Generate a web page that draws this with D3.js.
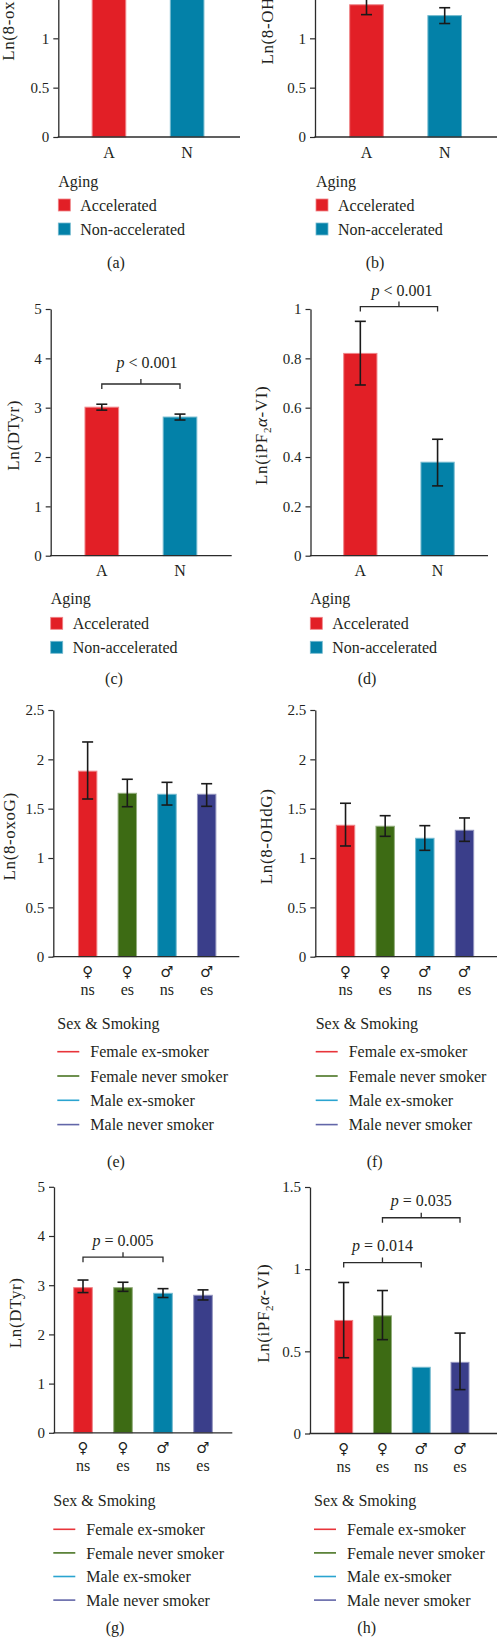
<!DOCTYPE html>
<html><head><meta charset="utf-8">
<script src="https://cdn.jsdelivr.net/npm/d3@7"></script>
<style>
html,body{margin:0;padding:0;background:#fff;}
svg{display:block;}
text{font-family:"Liberation Serif","Times New Roman",serif;fill:#231f20;}
</style></head><body>
<svg id="c" width="497" height="1641"></svg>
<script>
// ---------- DATA ----------
const agingCats = ["A", "N"];
const agingNames = ["Accelerated", "Non-accelerated"];
const groupCats = ["Fns", "Fes", "Mns", "Mes"];
const groupSex = ["\u2640", "\u2640", "\u2642", "\u2642"];
const groupSmoke = ["ns", "es", "ns", "es"];
const groupNames = ["Female ex-smoker", "Female never smoker", "Male ex-smoker", "Male never smoker"];

const ticks25 = [0, 0.5, 1, 1.5, 2, 2.5];
const ticks5 = [0, 1, 2, 3, 4, 5];
const ticks1 = [0, 0.2, 0.4, 0.6, 0.8, 1];
const ticks15 = [0, 0.5, 1, 1.5];

// Aging panels (a)-(d)
const oxoG_aging = [1.78, 1.66];
const oxoG_aging_lo = [1.64, 1.55];
const oxoG_aging_hi = [1.92, 1.77];
const ohdg_aging = [1.34, 1.23];
const ohdg_aging_lo = [1.24, 1.15];
const ohdg_aging_hi = [1.44, 1.31];
const dtyr_aging = [3.01, 2.81];
const dtyr_aging_lo = [2.95, 2.75];
const dtyr_aging_hi = [3.07, 2.87];
const ipf_aging = [0.82, 0.379];
const ipf_aging_lo = [0.692, 0.283];
const ipf_aging_hi = [0.95, 0.472];

// Sex & smoking panels (e)-(h)
const oxoG_sex = [1.88, 1.656, 1.646, 1.646];
const oxoG_sex_lo = [1.598, 1.52, 1.537, 1.524];
const oxoG_sex_hi = [2.176, 1.798, 1.767, 1.753];
const ohdg_sex = [1.332, 1.322, 1.2, 1.281];
const ohdg_sex_lo = [1.122, 1.22, 1.078, 1.169];
const ohdg_sex_hi = [1.555, 1.429, 1.328, 1.406];
const dtyr_sex = [2.95, 2.95, 2.835, 2.795];
const dtyr_sex_lo = [2.85, 2.875, 2.75, 2.70];
const dtyr_sex_hi = [3.105, 3.06, 2.93, 2.905];
const ipf_sex = [0.688, 0.716, 0.403, 0.433];
const ipf_sex_lo = [0.461, 0.571, null, 0.267];
const ipf_sex_hi = [0.919, 0.87, null, 0.611];

// significance annotations: [from, to, level(y value), label]
const sigC = [[0, 1, 3.48, "< 0.001"]];
const sigD = [[0, 1, 1.01, "< 0.001"]];
const sigG = [[0, 2, 3.57, "= 0.005"]];
const sigH = [[0, 2, 1.04, "= 0.014"], [1, 3, 1.313, "= 0.035"]];

// ---------- STYLE ----------
const agingColors = ["#e21f26", "#0381a8"];
const groupColors = ["#e21f26", "#3d6b14", "#0381a8", "#3a3e8a"];
const groupLineColors = ["#e8343a", "#4a7524", "#2aa4d0", "#6266a8"];

const svg = d3.select("#c");

const panels = [
  {id:"a", cats:agingCats, means:oxoG_aging, lo:oxoG_aging_lo, hi:oxoG_aging_hi, ticks:ticks25, yMax:2.5,
   label:[["Ln(8-oxoG)"]], axisX:58.3, axisEnd:240, r0:69.9, r1:226.2, pad:0.557, base:137, top:-109.7,
   labelX:8, legX:58.3, legTitleY:181, legY0:205, legStep:24, capX:116, capY:262, sig:[]},
  {id:"b", cats:agingCats, means:ohdg_aging, lo:ohdg_aging_lo, hi:ohdg_aging_hi, ticks:ticks25, yMax:2.5,
   label:[["Ln(8-OHdG)"]], axisX:315, axisEnd:497, r0:327.4, r1:483.8, pad:0.557, base:137, top:-109.7,
   labelX:266.7, legX:316, legTitleY:181, legY0:205, legStep:24, capX:375, capY:262, sig:[]},
  {id:"c", cats:agingCats, means:dtyr_aging, lo:dtyr_aging_lo, hi:dtyr_aging_hi, ticks:ticks5, yMax:5,
   label:[["Ln(DTyr)"]], axisX:50.7, axisEnd:231.7, r0:62.7, r1:219.1, pad:0.557, base:555.7, top:309,
   labelX:12.7, legX:50.7, legTitleY:598.3, legY0:623.3, legStep:24, capX:114, capY:678.3, sig:sigC, sigDy:15.5, sigDx:6},
  {id:"d", cats:agingCats, means:ipf_aging, lo:ipf_aging_lo, hi:ipf_aging_hi, ticks:ticks1, yMax:1,
   label:"ipf", axisX:310.5, axisEnd:488, r0:321.7, r1:476.2, pad:0.557, base:555.7, top:309,
   labelX:261, legX:310.3, legTitleY:598.3, legY0:623.3, legStep:24, capX:367, capY:678.3, sig:sigD, sigDy:11, sigDx:3},
  {id:"e", cats:groupCats, means:oxoG_sex, lo:oxoG_sex_lo, hi:oxoG_sex_hi, ticks:ticks25, yMax:2.5,
   label:[["Ln(8-oxoG)"]], axisX:53.3, axisEnd:239.3, r0:67.8, r1:226.5, pad:0.51, base:956.7, top:710,
   labelX:9, legX:57.3, legTitleY:1023.7, legY0:1051.7, legStep:24.3, capX:116, capY:1161, sig:[]},
  {id:"f", cats:groupCats, means:ohdg_sex, lo:ohdg_sex_lo, hi:ohdg_sex_hi, ticks:ticks25, yMax:2.5,
   label:[["Ln(8-OHdG)"]], axisX:315.3, axisEnd:497, r0:325.7, r1:484.3, pad:0.51, base:956.7, top:710,
   labelX:266.3, legX:315.7, legTitleY:1023.7, legY0:1051.7, legStep:24.3, capX:374.7, capY:1161, sig:[]},
  {id:"g", cats:groupCats, means:dtyr_sex, lo:dtyr_sex_lo, hi:dtyr_sex_hi, ticks:ticks5, yMax:5,
   label:[["Ln(DTyr)"]], axisX:54, axisEnd:232.3, r0:63, r1:223, pad:0.51, base:1432.8, top:1186.8,
   labelX:15, legX:53.3, legTitleY:1500.7, legY0:1529.3, legStep:23.6, capX:115, capY:1627, sig:sigG, sigDy:11, sigDx:0},
  {id:"h", cats:groupCats, means:ipf_sex, lo:ipf_sex_lo, hi:ipf_sex_hi, ticks:ticks15, yMax:1.5,
   label:"ipf", axisX:310, axisEnd:497, r0:324.3, r1:479.4, pad:0.51, base:1433.5, top:1187,
   labelX:263, legX:314, legTitleY:1500.7, legY0:1529.3, legStep:23.6, capX:366.7, capY:1627, sig:sigH, sigDy:12, sigDx:0}
];

function lighten(c, t) {
  return d3.interpolateRgb(c, "#ffffff")(t);
}

function drawPanel(p) {
  const g = svg.append("g").attr("class", "panel-" + p.id);
  const isAging = p.cats.length === 2;
  const colors = isAging ? agingColors : groupColors;
  const y = d3.scaleLinear().domain([0, p.yMax]).range([p.base, p.top]);
  const x = d3.scaleBand().domain(p.cats).range([p.r0, p.r1])
    .paddingInner(p.pad).paddingOuter(p.pad / 2);
  const cx = i => x(p.cats[i]) + x.bandwidth() / 2;

  // bars
  g.selectAll("rect.bar").data(p.means).join("rect").attr("class", "bar")
    .attr("x", (d, i) => x(p.cats[i]) + 0.5)
    .attr("width", x.bandwidth() - 1)
    .attr("y", d => y(d))
    .attr("height", d => y(0) - y(d))
    .attr("fill", (d, i) => colors[i])
    .attr("stroke", (d, i) => lighten(colors[i], 0.45))
    .attr("stroke-width", 1);

  // error bars
  const eb = g.append("g").attr("stroke", "#1a1a1a").attr("stroke-width", 1.6).attr("fill", "none");
  p.means.forEach((m, i) => {
    if (p.lo[i] == null) return;
    const xc = cx(i), w = 5.5;
    eb.append("line").attr("x1", xc).attr("x2", xc).attr("y1", y(p.lo[i])).attr("y2", y(p.hi[i]));
    eb.append("line").attr("x1", xc - w).attr("x2", xc + w).attr("y1", y(p.lo[i])).attr("y2", y(p.lo[i]));
    eb.append("line").attr("x1", xc - w).attr("x2", xc + w).attr("y1", y(p.hi[i])).attr("y2", y(p.hi[i]));
  });

  // y axis (only ticks that fall inside the visible page)
  const visTicks = p.ticks.filter(t => y(t) > 8);
  const ax = d3.axisLeft(y).tickValues(visTicks).tickSize(5).tickSizeOuter(0).tickPadding(4)
    .tickFormat(d3.format("~g"));
  const ag = g.append("g").attr("transform", `translate(${p.axisX},0)`).call(ax);
  ag.select(".domain").attr("stroke", "#2b2b2b").attr("stroke-width", 1.3);
  ag.selectAll(".tick line").attr("stroke", "#2b2b2b").attr("stroke-width", 1.2);
  ag.selectAll(".tick text").attr("font-size", 15).attr("font-family", "Liberation Serif").attr("fill", "#231f20");

  // x baseline
  g.append("line").attr("x1", p.axisX - 0.6).attr("x2", p.axisEnd).attr("y1", y(0)).attr("y2", y(0))
    .attr("stroke", "#2b2b2b").attr("stroke-width", 1.3);

  // x labels
  if (isAging) {
    g.selectAll("text.xl").data(p.cats).join("text").attr("class", "xl")
      .attr("x", (d, i) => cx(i)).attr("y", y(0) + 15).attr("dy", "0.35em")
      .attr("text-anchor", "middle").attr("font-size", 16).text(d => d);
  } else {
    g.selectAll("text.xs").data(groupSex).join("text").attr("class", "xs")
      .attr("x", (d, i) => cx(i)).attr("y", y(0) + 15).attr("dy", "0.35em")
      .attr("text-anchor", "middle").attr("font-size", 15)
      .style("font-family", "'DejaVu Serif','DejaVu Sans',serif").text(d => d);
    g.selectAll("text.xm").data(groupSmoke).join("text").attr("class", "xm")
      .attr("x", (d, i) => cx(i)).attr("y", y(0) + 33).attr("dy", "0.35em")
      .attr("text-anchor", "middle").attr("font-size", 16).text(d => d);
  }

  // y label
  const ly = (p.base + p.top) / 2 + 3;
  const lt = g.append("text").attr("transform", `translate(${p.labelX},${ly}) rotate(-90)`)
    .attr("text-anchor", "middle").attr("dy", "0.35em").attr("font-size", 17).attr("letter-spacing", 0.6);
  if (p.label === "ipf") {
    lt.append("tspan").text("Ln(iPF");
    lt.append("tspan").attr("font-size", 11).attr("dy", 4).text("2");
    lt.append("tspan").attr("dy", -4).attr("font-style", "italic").text("\u03b1");
    lt.append("tspan").text("-VI)");
  } else {
    lt.text(p.label[0][0]);
  }

  // significance brackets
  p.sig.forEach(s => {
    const x1 = cx(s[0]), x2 = cx(s[1]), yb = y(s[2]), xm = (x1 + x2) / 2;
    g.append("path").attr("d", `M${x1},${yb + 5}V${yb}H${x2}V${yb + 5}M${xm},${yb}V${yb - 5}`)
      .attr("fill", "none").attr("stroke", "#2b2b2b").attr("stroke-width", 1.3);
    const t = g.append("text").attr("x", xm + p.sigDx).attr("y", yb - p.sigDy)
      .attr("text-anchor", "middle").attr("font-size", 16);
    t.append("tspan").attr("font-style", "italic").text("p");
    t.append("tspan").text(" " + s[3]);
  });

  // legend
  const lg = g.append("g");
  lg.append("text").attr("x", p.legX).attr("y", p.legTitleY).attr("dy", "0.35em").attr("font-size", 16)
    .text(isAging ? "Aging" : "Sex & Smoking");
  if (isAging) {
    agingNames.forEach((n, i) => {
      const yy = p.legY0 + i * p.legStep;
      lg.append("rect").attr("x", p.legX).attr("y", yy - 6).attr("width", 12).attr("height", 12)
        .attr("fill", agingColors[i]).attr("stroke", lighten(agingColors[i], 0.45)).attr("stroke-width", 0.8);
      lg.append("text").attr("x", p.legX + 22).attr("y", yy).attr("dy", "0.35em").attr("font-size", 16).text(n);
    });
  } else {
    groupNames.forEach((n, i) => {
      const yy = p.legY0 + i * p.legStep;
      lg.append("line").attr("x1", p.legX).attr("x2", p.legX + 22).attr("y1", yy).attr("y2", yy)
        .attr("stroke", groupLineColors[i]).attr("stroke-width", 1.6);
      lg.append("text").attr("x", p.legX + 33).attr("y", yy).attr("dy", "0.35em").attr("font-size", 16).text(n);
    });
  }

  // caption
  g.append("text").attr("x", p.capX).attr("y", p.capY).attr("dy", "0.35em")
    .attr("text-anchor", "middle").attr("font-size", 16).text(`(${p.id})`);
}

panels.forEach(drawPanel);
</script>
</body></html>
